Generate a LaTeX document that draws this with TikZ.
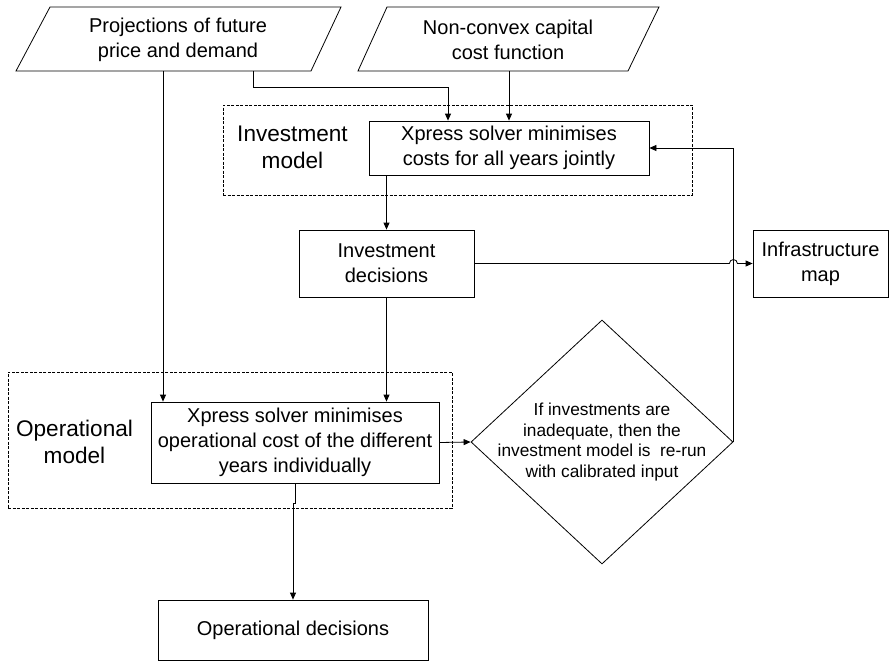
\documentclass[tikz,border=0pt]{standalone}
\usepackage{fontspec}
\setmainfont{Liberation Sans}
\usetikzlibrary{arrows.meta,shapes.geometric}
\begin{document}
\begin{tikzpicture}[x=1pt,y=-1pt,
  line width=0.8pt,
  every node/.style={inner sep=0pt},
  box/.style={draw, rectangle, align=center, font=\fontsize{20}{25}\selectfont},
  lbl/.style={align=center, font=\fontsize{22.6}{27}\selectfont},
  grp/.style={draw, rectangle, dash pattern=on 3pt off 1.5pt, line width=0.7pt},
  dia/.style={draw, diamond, minimum width=262pt, minimum height=244pt},
  arr/.style={-{Triangle[length=7pt,width=6pt]}},
  ptxt/.style={align=center, font=\fontsize{20}{25}\selectfont},
]
\fill[white] (0,0) rectangle (889,661);
\useasboundingbox (0,0) rectangle (889,661);

% input parallelograms
\draw (50,7) -- (341,7) -- (311,71) -- (16,71) -- cycle;
\node[ptxt] (proj) at (178,39.5) {Projections of future\\price and demand};
\draw (387,7) -- (659,7) -- (628,71) -- (358,71) -- cycle;
\node[ptxt] (ncc) at (508,39.5) {Non-convex capital\\cost function};
\coordinate (projA) at (163,71);
\coordinate (projB) at (253,71);
\coordinate (nccA) at (509,71);

% dashed groups
\node[grp, minimum width=469pt, minimum height=90pt] (invgrp) at (457.5,150) {};
\node[grp, minimum width=444pt, minimum height=136pt] (opgrp) at (230,440) {};

% boxes
\node[box, minimum width=280pt, minimum height=54pt] (invx) at (509,148) {Xpress solver minimises\\costs for all years jointly};
\node[box, minimum width=175pt, minimum height=67pt] (invd) at (386.5,263.5) {Investment\\decisions};
\node[box, minimum width=135pt, minimum height=67pt] (infra) at (820.5,263.5) {Infrastructure\\map};
\node[box, minimum width=288pt, minimum height=81pt] (opx) at (295,442.5) {Xpress solver minimises\\operational cost of the different\\years individually};
\node[dia] (dec) at (602,442) {};
\node[align=center, font=\fontsize{17.3}{20.5}\selectfont] (dectxt) at (602,442) {If investments are\\inadequate, then the\\investment model is\ \ re-run\\with calibrated input};
\node[box, minimum width=270pt, minimum height=60pt] (opd) at (293,630) {Operational decisions};
\node[lbl] (invlbl) at (292.5,147) {Investment\\model};
\node[lbl] (oplbl) at (74.5,441.5) {Operational\\model};

% connectors
\draw[arr] (projA) -- (projA |- opx.north);
\draw[arr] (projB) -- ++(0,16) -| ([xshift=-61pt]invx.north);
\draw[arr] (nccA) -- (nccA |- invx.north);
\draw[arr] (invd.north |- invx.south) -- (invd.north);
\draw[arr] (invd.south) -- (invd.south |- opx.north);
\draw[arr] (opx.east) -- (dec.west);
\draw[arr] (dec.east) -- (dec.east |- invx.east) -- (invx.east);
\draw[arr] (invd.east) -- ([xshift=-4pt]invd.east -| dec.east) arc[start angle=180,end angle=0,radius=4pt] -- (infra.west);
\draw[arr] (opx.south) -- ++(0,19.5) -| (opd.north);
\end{tikzpicture}
\end{document}
